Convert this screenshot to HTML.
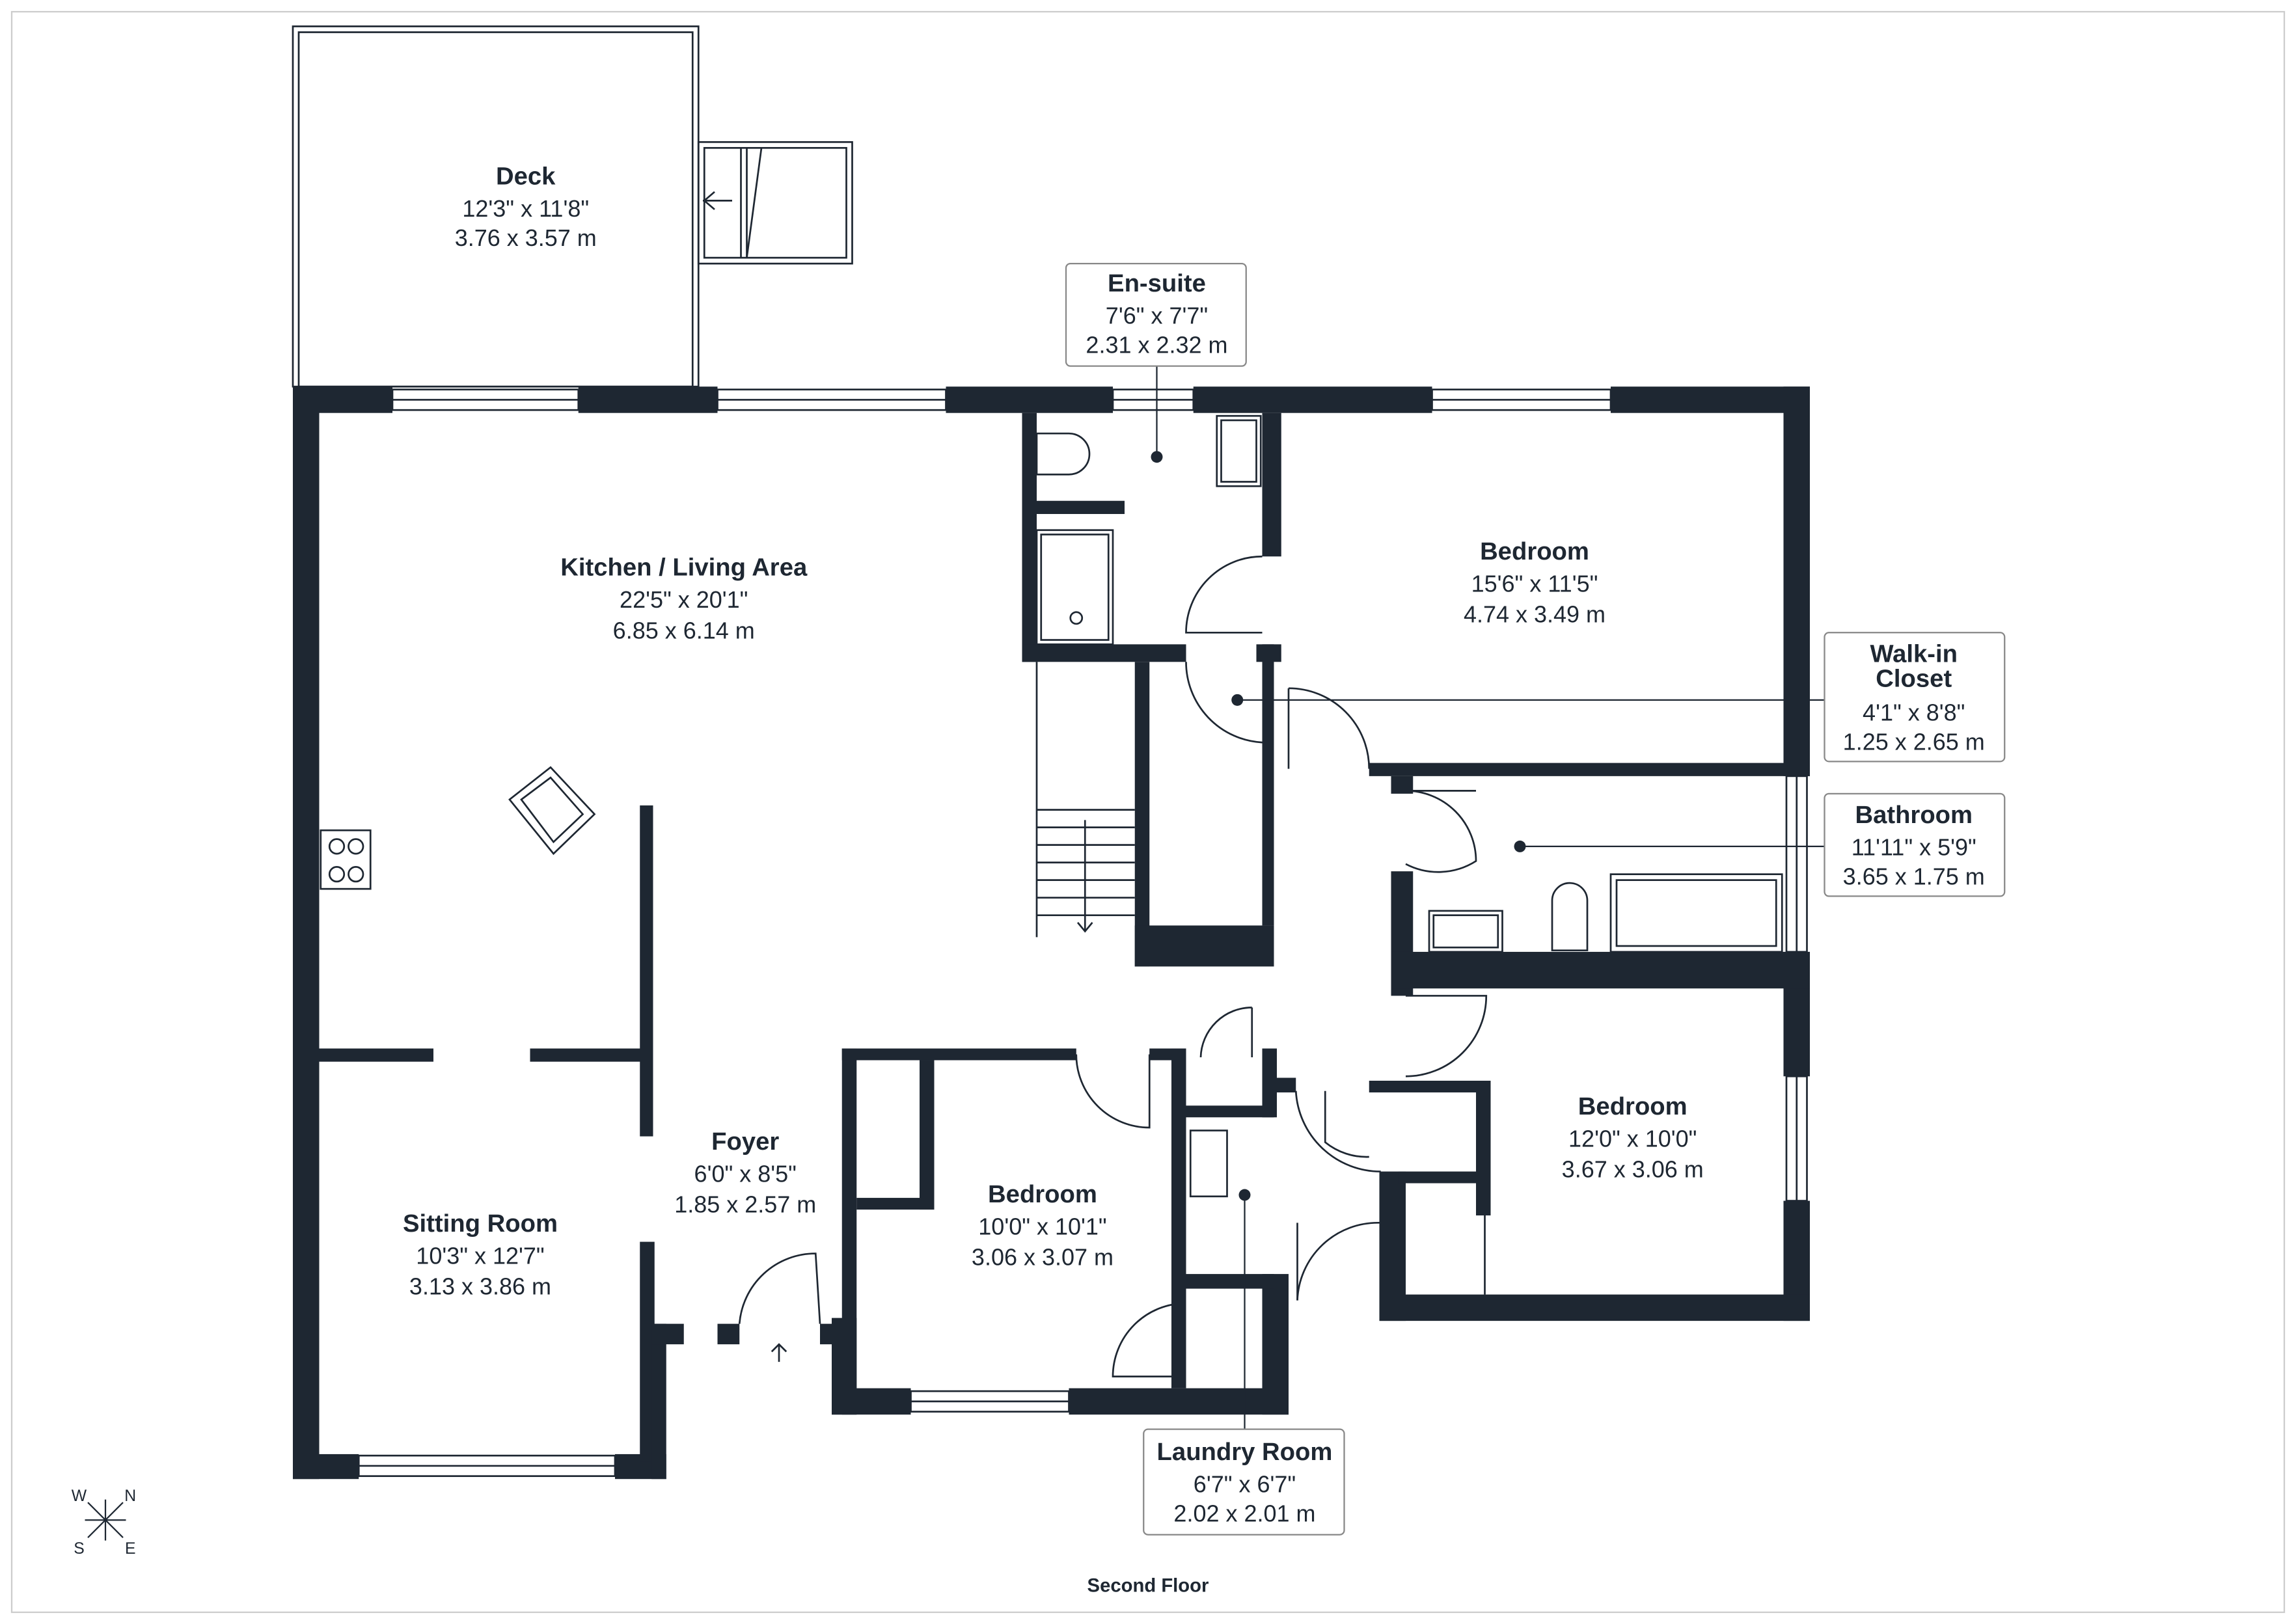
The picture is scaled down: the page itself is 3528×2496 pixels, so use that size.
<!DOCTYPE html>
<html><head><meta charset="utf-8"><style>
html,body{margin:0;padding:0;background:#fff;}
svg{display:block;}
text{font-family:"Liberation Sans",sans-serif;fill:#1e2732;text-anchor:middle;}
.n{font-weight:bold;font-size:17px;}
.d{font-size:16px;}
</style></head><body>
<svg width="3528" height="2496" viewBox="0 0 1568 1109" preserveAspectRatio="none" xmlns="http://www.w3.org/2000/svg">
<rect x="0" y="0" width="1568" height="1109" fill="#fff"/>
<rect x="8" y="8" width="1552" height="1093" fill="none" stroke="#ccc" stroke-width="1"/>
<g fill="none" stroke="#1e2732" stroke-width="1.2">
<!-- deck -->
<rect x="200" y="18" width="277" height="246"/>
<rect x="204" y="22" width="269" height="242"/>
<rect x="477" y="97" width="105" height="83"/>
<rect x="481" y="101" width="97" height="75"/>
<line x1="510" y1="101" x2="510" y2="176"/><line x1="506" y1="101" x2="506" y2="176"/>
<polyline points="520,101 510,176"/>
<line x1="480" y1="137" x2="500" y2="137"/><polyline points="488,131 481,137 488,143"/>
<!-- windows top -->
<rect x="268" y="266" width="127" height="14"/><line x1="268" y1="273" x2="395" y2="273"/>
<rect x="490" y="266" width="156" height="14"/><line x1="490" y1="273" x2="646" y2="273"/>
<rect x="760" y="266" width="55" height="14"/><line x1="760" y1="273" x2="815" y2="273"/>
<rect x="978" y="266" width="122" height="14"/><line x1="978" y1="273" x2="1100" y2="273"/>
<rect x="245" y="994" width="175" height="14"/><line x1="245" y1="1001" x2="420" y2="1001"/>
<rect x="622" y="950" width="108" height="14"/><line x1="622" y1="957" x2="730" y2="957"/>
<rect x="1220" y="530" width="14" height="120"/><line x1="1227" y1="530" x2="1227" y2="650"/>
<rect x="1220" y="735" width="14" height="85"/><line x1="1227" y1="735" x2="1227" y2="820"/>
<!-- doors -->
<path d="M862,380 A52,52 0 0 0 810,432 L862,432"/>
<path d="M810,452 A55,55 0 0 0 862,507"/>
<path d="M880,470 A55,55 0 0 1 935,525"/><line x1="880" y1="470" x2="880" y2="525"/>
<path d="M960,540 A48,48 0 0 1 1008,588 A48,48 0 0 1 960,590"/><line x1="960" y1="540" x2="1008" y2="540"/>
<path d="M960,680 L1015,680 A55,55 0 0 1 960,735"/>
<path d="M735,720 A50,50 0 0 0 785,770 L785,720"/>
<path d="M855,688 A35,35 0 0 0 820,722"/><line x1="855" y1="688" x2="855" y2="722"/>
<path d="M885,745 A58,58 0 0 0 943,800"/><path d="M905,745 L905,780 A45,45 0 0 0 935,790"/>
<path d="M942,835 A55,55 0 0 0 886,888"/><line x1="886" y1="835" x2="886" y2="888"/>
<path d="M810,890 A50,50 0 0 0 760,940 L810,940"/>
<path d="M505,904 A52,52 0 0 1 557,856 L560,904"/>
<line x1="532" y1="918" x2="532" y2="930"/><polyline points="527,923 532,918 537,923"/>
<!-- stairs -->
<line x1="708" y1="452" x2="708" y2="640"/>
<line x1="708" y1="553" x2="775" y2="553"/><line x1="708" y1="565" x2="775" y2="565"/><line x1="708" y1="577" x2="775" y2="577"/><line x1="708" y1="589" x2="775" y2="589"/><line x1="708" y1="601" x2="775" y2="601"/><line x1="708" y1="613" x2="775" y2="613"/><line x1="708" y1="625" x2="775" y2="625"/>
<line x1="741" y1="560" x2="741" y2="636"/><polyline points="736,630 741,636 746,630"/>
<!-- fixtures -->
<path d="M708,296 L730,296 A14,14 0 0 1 730,324 L708,324 Z"/>
<rect x="831" y="284" width="30" height="48"/><rect x="834" y="287" width="24" height="42"/>
<rect x="708" y="362" width="52" height="78"/><rect x="711" y="365" width="46" height="72"/><circle cx="735" cy="422" r="4"/>
<rect x="219" y="567" width="34" height="40"/><circle cx="230" cy="578" r="5"/><circle cx="243" cy="578" r="5"/><circle cx="230" cy="597" r="5"/><circle cx="243" cy="597" r="5"/>
<path d="M348,546 L376,524 L406,556 L378,583 Z"/><path d="M356,546 L376,531 L398,556 L378,575 Z"/>
<rect x="976" y="622" width="50" height="28"/><rect x="979" y="625" width="44" height="22"/>
<path d="M1060,649 L1060,615 A12,12 0 0 1 1084,615 L1084,649 Z"/>
<rect x="1100" y="597" width="117" height="53"/><rect x="1104" y="601" width="109" height="45"/>
<rect x="813" y="772" width="25" height="45"/>
<line x1="582" y1="735" x2="582" y2="816"/><line x1="1014" y1="830" x2="1014" y2="884"/>
</g>
<g fill="#1e2732">
<!-- top wall -->
<rect x="200" y="264" width="68" height="18"/><rect x="395" y="264" width="95" height="18"/><rect x="646" y="264" width="114" height="18"/><rect x="815" y="264" width="163" height="18"/><rect x="1100" y="264" width="136" height="18"/>
<rect x="200" y="264" width="18" height="746"/>
<rect x="200" y="993" width="45" height="17"/><rect x="420" y="993" width="35" height="17"/>
<rect x="437" y="848" width="10" height="150"/><rect x="445" y="904" width="10" height="106"/>
<rect x="218" y="716" width="78" height="9"/><rect x="362" y="716" width="83" height="9"/>
<rect x="437" y="550" width="9" height="226"/>
<rect x="445" y="904" width="22" height="14"/><rect x="490" y="904" width="15" height="14"/><rect x="560" y="904" width="15" height="14"/>
<rect x="575" y="716" width="10" height="250"/><rect x="568" y="900" width="17" height="66"/>
<rect x="575" y="716" width="160" height="8"/><rect x="785" y="716" width="25" height="8"/>
<rect x="628" y="724" width="10" height="102"/><rect x="585" y="818" width="53" height="8"/>
<rect x="568" y="948" width="54" height="18"/><rect x="730" y="948" width="150" height="18"/>
<rect x="800" y="716" width="10" height="232"/>
<rect x="862" y="870" width="18" height="96"/><rect x="810" y="870" width="60" height="10"/>
<rect x="810" y="755" width="60" height="8"/><rect x="862" y="716" width="10" height="47"/><rect x="872" y="736" width="13" height="10"/>
<rect x="698" y="282" width="10" height="170"/><rect x="698" y="440" width="112" height="12"/><rect x="858" y="440" width="17" height="12"/>
<rect x="708" y="342" width="60" height="9"/>
<rect x="775" y="452" width="10" height="208"/><rect x="775" y="632" width="95" height="28"/><rect x="862" y="440" width="8" height="192"/>
<rect x="862" y="282" width="13" height="98"/>
<rect x="935" y="521" width="301" height="9"/>
<rect x="1218" y="264" width="18" height="266"/><rect x="1218" y="650" width="18" height="85"/><rect x="1218" y="820" width="18" height="82"/>
<rect x="950" y="595" width="15" height="85"/><rect x="950" y="650" width="286" height="25"/>
<rect x="942" y="884" width="294" height="18"/><rect x="942" y="800" width="18" height="102"/>
<rect x="935" y="738" width="83" height="8"/><rect x="1008" y="738" width="10" height="92"/><rect x="955" y="800" width="55" height="8"/>
<rect x="950" y="530" width="15" height="12"/>
<!-- dots -->
<circle cx="790" cy="312" r="4"/><circle cx="845" cy="478" r="4"/><circle cx="1038" cy="578" r="4"/><circle cx="850" cy="816" r="4"/>
</g>
<!-- leader lines -->
<g stroke="#1e2732" stroke-width="1">
<line x1="790" y1="250" x2="790" y2="312"/>
<line x1="845" y1="478" x2="1246" y2="478"/>
<line x1="1038" y1="578" x2="1246" y2="578"/>
<line x1="850" y1="816" x2="850" y2="976"/>
</g>
<g fill="#fff" stroke="#888" stroke-width="1">
<rect x="728" y="180" width="123" height="70" rx="3"/>
<rect x="1246" y="432" width="123" height="88" rx="3"/>
<rect x="1246" y="542" width="123" height="70" rx="3"/>
<rect x="781" y="976" width="137" height="72" rx="3"/>
</g>
<text class="n" x="359" y="126">Deck</text><text class="d" x="359" y="148">12'3" x 11'8"</text><text class="d" x="359" y="168">3.76 x 3.57 m</text>
<text class="n" x="790" y="199">En-suite</text><text class="d" x="790" y="221">7'6" x 7'7"</text><text class="d" x="790" y="241">2.31 x 2.32 m</text>
<text class="n" x="467" y="393">Kitchen / Living Area</text><text class="d" x="467" y="415">22'5" x 20'1"</text><text class="d" x="467" y="436">6.85 x 6.14 m</text>
<text class="n" x="1048" y="382">Bedroom</text><text class="d" x="1048" y="404">15'6" x 11'5"</text><text class="d" x="1048" y="425">4.74 x 3.49 m</text>
<text class="n" x="1307" y="452">Walk-in</text><text class="n" x="1307" y="469">Closet</text><text class="d" x="1307" y="492">4'1" x 8'8"</text><text class="d" x="1307" y="512">1.25 x 2.65 m</text>
<text class="n" x="1307" y="562">Bathroom</text><text class="d" x="1307" y="584">11'11" x 5'9"</text><text class="d" x="1307" y="604">3.65 x 1.75 m</text>
<text class="n" x="1115" y="761">Bedroom</text><text class="d" x="1115" y="783">12'0" x 10'0"</text><text class="d" x="1115" y="804">3.67 x 3.06 m</text>
<text class="n" x="509" y="785">Foyer</text><text class="d" x="509" y="807">6'0" x 8'5"</text><text class="d" x="509" y="828">1.85 x 2.57 m</text>
<text class="n" x="328" y="841">Sitting Room</text><text class="d" x="328" y="863">10'3" x 12'7"</text><text class="d" x="328" y="884">3.13 x 3.86 m</text>
<text class="n" x="712" y="821">Bedroom</text><text class="d" x="712" y="843">10'0" x 10'1"</text><text class="d" x="712" y="864">3.06 x 3.07 m</text>
<text class="n" x="850" y="997">Laundry Room</text><text class="d" x="850" y="1019">6'7" x 6'7"</text><text class="d" x="850" y="1039">2.02 x 2.01 m</text>
<text x="784" y="1087" style="font-size:13px;font-weight:bold">Second Floor</text>
<!-- compass -->
<g stroke="#1e2732" stroke-width="1"><line x1="60" y1="1026" x2="84" y2="1050"/><line x1="84" y1="1026" x2="60" y2="1050"/><line x1="72" y1="1024" x2="72" y2="1052"/><line x1="58" y1="1038" x2="86" y2="1038"/></g>
<text x="54" y="1025" style="font-size:11px">W</text><text x="89" y="1025" style="font-size:11px">N</text><text x="54" y="1061" style="font-size:11px">S</text><text x="89" y="1061" style="font-size:11px">E</text>
</svg>
</body></html>
